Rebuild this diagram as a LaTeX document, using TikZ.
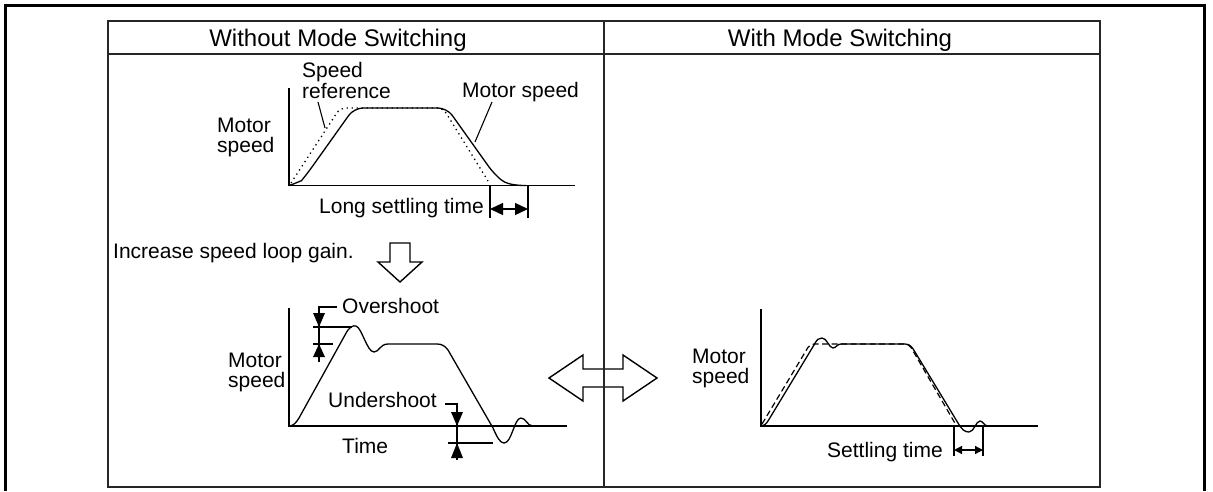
\documentclass[tikz,border=0pt]{standalone}
\usepackage{fontspec}
\setmainfont{Liberation Sans}
\usetikzlibrary{arrows.meta}
\begin{document}
\begin{tikzpicture}[x=1pt,y=-1pt,
  lbl/.style={inner sep=0pt, font=\fontsize{21}{19.5}\selectfont, align=left},
  hdr/.style={inner sep=0pt, font=\fontsize{24}{28}\selectfont},
  outerframe/.style={line width=3pt},
  tab/.style={line width=1.4pt, draw=black!85},
  axis/.style={line width=1.5pt},
  curve/.style={line width=1.3pt, line join=round},
  refdot/.style={line width=1.3pt, dash pattern=on 1.3pt off 3.7pt},
  refdash/.style={line width=1.2pt, dash pattern=on 6pt off 3.5pt},
  leader/.style={line width=1.1pt},
  hollow/.style={line width=1.4pt, line join=miter},
  tri/.style={fill=black},
  dimbig/.style={line width=1.3pt, {Triangle[length=13pt,width=12pt]}-{Triangle[length=13pt,width=12pt]}},
  dimsmall/.style={line width=1.3pt, {Triangle[length=8pt,width=8pt]}-{Triangle[length=8pt,width=8pt]}},
]
\useasboundingbox (0,0) rectangle (1213,491);

% outer frame (open at bottom)
\draw[outerframe] (5,491) -- (5,5) -- (1204,5) -- (1204,491);

% hollow double arrow (drawn under the divider)
\draw[hollow] (549,378) -- (583,355) -- (583,369) -- (623,369) -- (623,355) -- (657,378)
  -- (623,401) -- (623,387) -- (583,387) -- (583,401) -- cycle;

% table
\draw[tab] (108,21) rectangle (1100,487);
\draw[tab] (108,54) -- (1100,54);
\draw[tab] (604,21) -- (604,487);

\node[hdr, anchor=base] (h1) at (338,46.5) {Without Mode Switching};
\node[hdr, anchor=base] (h2) at (840,46.5) {With Mode Switching};

% ---------- top-left graph ----------
\draw[axis] (289,88) -- (289,185.5) -- (575,185.5);
\draw[refdot, rounded corners=6pt] (291,183) -- (340,108) -- (443,108) -- (488,181);
\draw[curve, rounded corners=9pt] (289,185.5) .. controls (297,183) and (302,180) .. (307,174)
  -- (354,108) -- (447,108) -- (494,174) .. controls (505,183) and (512,185.5) .. (526,185.5);

\node[lbl, anchor=north west] (sref) at (302,62.5) {Speed\\reference};
\coordinate (srefend) at (325,128);
\draw[leader] (318,102) -- (srefend);
\node[lbl, anchor=base west] (msp) at (462,97) {Motor speed};
\coordinate (mspend) at (475,142);
\draw[leader] (492,102) -- (mspend);
\node[lbl, anchor=north west] (ylab1) at (217,118) {Motor\\speed};
\node[lbl, anchor=base west] (lst) at (319,213) {Long settling time};
\draw[leader] (490,185.5) -- (490,218);
\draw[leader] (528,185.5) -- (528,218);
\coordinate (la) at (490,209);
\coordinate (lb) at (528,209);
\draw[dimbig] (la) -- (lb);

% ---------- increase gain ----------
\node[lbl, anchor=base west] (inc) at (113,258) {Increase speed loop gain.};
\draw[hollow] (390,243) -- (410,243) -- (410,262) -- (422,262) -- (400,282) -- (378,262) -- (390,262) -- cycle;

% ---------- bottom-left graph ----------
\draw[axis] (289,308) -- (289,426) -- (567,426);
\draw[curve] (289,426) .. controls (293,426) and (296,423) .. (299,418) -- (345,335)
  .. controls (349,327) and (353,325) .. (356,326) .. controls (362,328) and (367,352) .. (374,352)
  .. controls (379,352) and (380,344) .. (388,344) -- (437,344)
  .. controls (442,344) and (445,346) .. (448,350) -- (493,428)
  .. controls (497,437) and (500,443) .. (504,443) .. controls (512,443) and (514,418) .. (521,418)
  .. controls (526,418) and (527,426) .. (533,426);

% overshoot marker
\draw[leader] (337,307) -- (319,307) -- (319,362);
\draw[leader] (313,327) -- (352,327);
\draw[leader] (313,344) -- (333,344);
\fill[tri] (313,313) -- (325,313) -- (319,327) -- cycle;
\fill[tri] (313,357) -- (325,357) -- (319,344) -- cycle;
\node[lbl, anchor=base west] (ovs) at (342,313) {Overshoot};

% undershoot marker
\draw[leader] (445,404) -- (457,404) -- (457,460);
\draw[leader] (448,443) -- (493,443);
\fill[tri] (451,412) -- (463,412) -- (457,426) -- cycle;
\fill[tri] (451,458) -- (463,458) -- (457,443) -- cycle;
\node[lbl, anchor=base west] (uds) at (328,407) {Undershoot};

\node[lbl, anchor=base west] (time) at (342,453) {Time};
\node[lbl, anchor=north west] (ylab2) at (228,353) {Motor\\speed};

% ---------- right graph ----------
\draw[axis] (761,309) -- (761,426) -- (1038,426);
\draw[refdash, rounded corners=4pt] (762,424) -- (810,344) -- (909,344) -- (956,425);
\draw[curve] (761,426) .. controls (764,426) and (766,424) .. (768,421) -- (814,345)
  .. controls (817,339) and (819,338) .. (822,338) .. controls (827,338) and (829,348) .. (833,348)
  .. controls (836,348) and (837,344) .. (841,344) -- (905,344)
  .. controls (910,344) and (912,347) .. (915,352) -- (958,423)
  .. controls (962,430) and (965,432) .. (969,432) .. controls (974,432) and (976,421) .. (980,421)
  .. controls (983,421) and (984,426) .. (988,426);
\node[lbl, anchor=north west] (ylab3) at (692,349) {Motor\\speed};
\node[lbl, anchor=base west] (stl) at (827,457) {Settling time};
\draw[leader] (954,426) -- (954,456);
\draw[leader] (983,426) -- (983,456);
\coordinate (sa) at (954,450);
\coordinate (sb) at (983,450);
\draw[dimsmall] (sa) -- (sb);
\end{tikzpicture}
\end{document}
